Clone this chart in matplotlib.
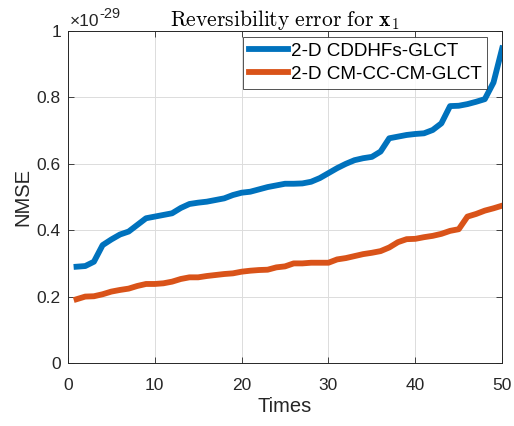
"""Reversibility error (NMSE) of two 2-D GLCT implementations over repeated runs."""
import matplotlib

matplotlib.use("Agg")
import matplotlib.pyplot as plt
import numpy as np

# NMSE values, in units of 1e-29
times = np.arange(1, 51)
nmse_cddhfs = [
    0.290, 0.292, 0.305, 0.355, 0.372, 0.387, 0.396, 0.416, 0.436, 0.441,
    0.446, 0.451, 0.467, 0.479, 0.483, 0.486, 0.491, 0.496, 0.506, 0.513,
    0.516, 0.523, 0.530, 0.535, 0.540, 0.540, 0.541, 0.546, 0.557, 0.572,
    0.587, 0.600, 0.611, 0.617, 0.621, 0.637, 0.677, 0.682, 0.687, 0.690,
    0.692, 0.702, 0.722, 0.774, 0.775, 0.780, 0.787, 0.795, 0.845, 0.948,
]
nmse_cm_cc_cm = [
    0.192, 0.200, 0.201, 0.207, 0.215, 0.220, 0.224, 0.232, 0.238, 0.238,
    0.240, 0.245, 0.253, 0.258, 0.258, 0.262, 0.265, 0.268, 0.270, 0.275,
    0.278, 0.280, 0.281, 0.288, 0.291, 0.300, 0.300, 0.302, 0.302, 0.302,
    0.312, 0.316, 0.322, 0.328, 0.332, 0.337, 0.348, 0.364, 0.373, 0.374,
    0.379, 0.383, 0.389, 0.398, 0.403, 0.441, 0.449, 0.459, 0.466, 0.474,
]
series_labels = ["2-D CDDHFs-GLCT", "2-D CM-CC-CM-GLCT"]
x_ticks = [0, 10, 20, 30, 40, 50]
y_ticks = [0, 0.2, 0.4, 0.6, 0.8, 1]
y_tick_labels = ["0", "0.2", "0.4", "0.6", "0.8", "1"]

plt.rcParams["font.family"] = ["Liberation Sans", "DejaVu Sans"]
plt.rcParams["mathtext.fontset"] = "cm"
text_color = "#262626"

fig = plt.figure(figsize=(5.14, 4.26), dpi=100)
ax = fig.add_axes([0.132, 0.148, 0.845, 0.779])

ax.plot(times, nmse_cddhfs, color="#0072BD", lw=4.2, label=series_labels[0], solid_joinstyle="round")
ax.plot(times, nmse_cm_cc_cm, color="#D95319", lw=4.2, label=series_labels[1], solid_joinstyle="round")

ax.set_xlim(0, 50)
ax.set_ylim(0, 1)
ax.set_xticks(x_ticks)
ax.set_yticks(y_ticks)
ax.set_yticklabels(y_tick_labels)
ax.tick_params(direction="in", top=True, right=True, labelsize=12.5, colors=text_color, length=4, width=0.6)
ax.tick_params(axis="x", pad=10.5)
ax.tick_params(axis="y", pad=5)
ax.grid(True, color="#dcdcdc", lw=0.7)
ax.set_axisbelow(True)
for spine in ax.spines.values():
    spine.set_color(text_color)
    spine.set_linewidth(0.7)

ax.set_xlabel("Times", fontsize=14.5, color=text_color, labelpad=3)
ax.set_ylabel("NMSE", fontsize=14.5, color=text_color, labelpad=3)
ax.set_title(r"$\mathrm{Reversibility\ error\ for\ }\mathbf{x}_1$", fontsize=15.5, color="black", pad=4)

# MATLAB-style exponent label
fig.text(0.136, 0.940, "\u00d710", fontsize=12.5, color=text_color, ha="left", va="baseline")
fig.text(0.194, 0.958, "-29", fontsize=10.5, color=text_color, ha="left", va="baseline")

leg = ax.legend(loc="upper right", bbox_to_anchor=(0.9654, 0.982), fontsize=13.6, frameon=True,
                fancybox=False, borderaxespad=0, handlelength=2.1, handletextpad=0.12,
                borderpad=0.3, labelspacing=0.3)
leg.get_frame().set_edgecolor(text_color)
leg.get_frame().set_linewidth(0.7)
for t in leg.get_texts():
    t.set_color("black")

fig.savefig("out.png", dpi=100)
